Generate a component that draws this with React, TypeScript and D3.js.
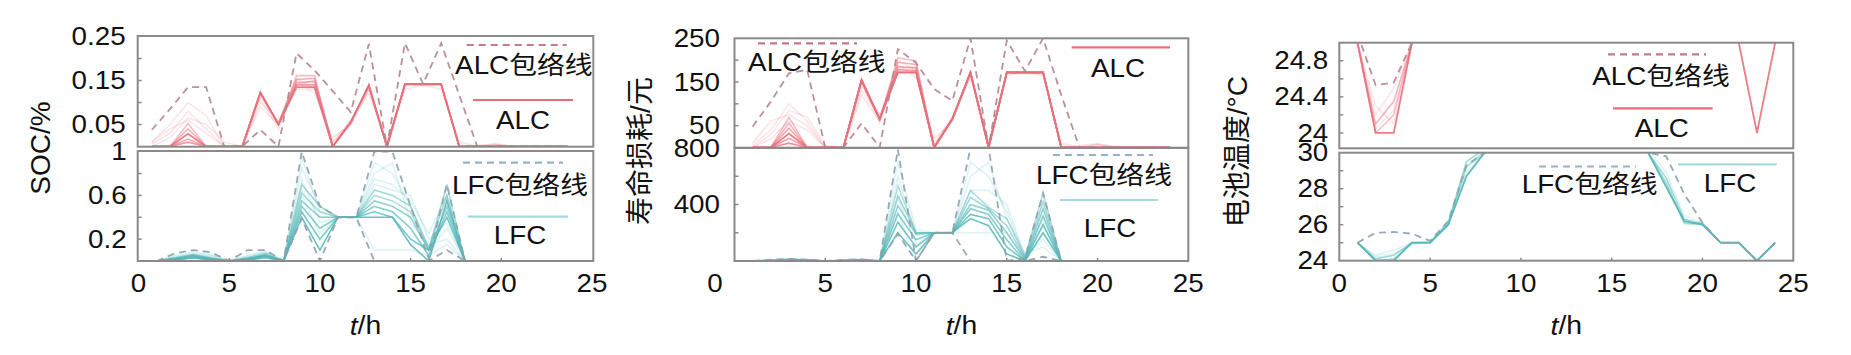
import React from 'react';
import * as d3 from 'd3';

// ---------------- data ----------------
const HOURS = [1, 2, 3, 4, 5, 6, 7, 8, 9, 10, 11, 12, 13, 14, 15, 16, 17, 18, 19, 20, 21, 22, 23, 24];
const X_TICKS = [0, 5, 10, 15, 20, 25];

// Panel 1 : SOC/%
const ALC_SOC_MAIN = [0, 0, 0.029, 0, 0, 0, 0.123, 0.05, 0.135, 0.135, 0, 0.055, 0.139, 0, 0.142, 0.142, 0.142, 0, 0, 0, 0, 0, 0, 0];
const ALC_SOC_MID = [
  [0, 0, 0.052, 0, 0, 0, 0.123, 0.05, 0.161, 0.161, 0, 0.055, 0.139, 0, 0.142, 0.142, 0.142, 0, 0, 0, 0, 0, 0, 0],
  [0, 0, 0.04, 0, 0, 0, 0.123, 0.05, 0.152, 0.155, 0, 0.055, 0.139, 0, 0.142, 0.142, 0.142, 0, 0, 0, 0, 0, 0, 0],
  [0, 0, 0.017, 0, 0, 0, 0.12, 0.05, 0.145, 0.148, 0, 0.055, 0.139, 0, 0.142, 0.142, 0.142, 0, 0, 0, 0, 0, 0, 0],
  [0, 0, 0.01, 0, 0, 0, 0.123, 0.05, 0.14, 0.14, 0, 0.055, 0.139, 0, 0.142, 0.142, 0.142, 0, 0, 0, 0, 0, 0, 0],
];
const ALC_SOC_FAINT = [
  [0.005, 0.03, 0.08, 0.04, 0, 0, 0.1, 0.06, 0.13, 0.13, 0.01, 0.06, 0.12, 0.01, 0.14, 0.14, 0.14, 0, 0, 0.006, 0, 0, 0, 0],
  [0.01, 0.05, 0.1, 0.07, 0, 0, 0.09, 0.05, 0.15, 0.12, 0.02, 0.05, 0.13, 0, 0.13, 0.14, 0.13, 0.01, 0, 0.004, 0, 0, 0, 0],
  [0, 0.02, 0.065, 0.05, 0.01, 0, 0.11, 0.04, 0.14, 0.15, 0, 0.06, 0.13, 0.01, 0.14, 0.14, 0.14, 0, 0.003, 0.005, 0, 0, 0, 0],
  [0.01, 0.04, 0.06, 0.03, 0, 0, 0.115, 0.055, 0.155, 0.13, 0.01, 0.05, 0.135, 0, 0.14, 0.14, 0.14, 0, 0, 0, 0, 0, 0, 0],
];
const ALC_SOC_ENV = [0.038, 0.085, 0.135, 0.135, 0, 0, 0.038, 0, 0.212, 0.173, 0.126, 0.078, 0.233, 0, 0.235, 0.142, 0.235, 0.117, 0, 0, 0, 0, 0, 0];

const LFC_SOC_MID = [
  [0, 0.02, 0.05, 0.02, 0, 0.02, 0.06, 0, 0.62, 0.45, 0.4, 0.4, 0.6, 0.55, 0.45, 0.1, 0.7, 0, 0, 0, 0, 0, 0, 0],
  [0, 0.03, 0.06, 0.03, 0, 0.03, 0.07, 0, 0.7, 0.5, 0.4, 0.4, 0.65, 0.6, 0.5, 0.12, 0.6, 0, 0, 0, 0, 0, 0, 0],
  [0, 0.02, 0.04, 0.02, 0, 0.02, 0.05, 0, 0.55, 0.4, 0.4, 0.4, 0.55, 0.5, 0.4, 0.1, 0.5, 0, 0, 0, 0, 0, 0, 0],
  [0, 0.01, 0.03, 0.01, 0, 0.01, 0.04, 0, 0.5, 0.3, 0.4, 0.4, 0.5, 0.45, 0.3, 0.05, 0.45, 0, 0, 0, 0, 0, 0, 0],
  [0, 0.02, 0.05, 0.02, 0, 0.02, 0.05, 0, 0.45, 0.2, 0.4, 0.4, 0.45, 0.4, 0.2, 0.1, 0.4, 0, 0, 0, 0, 0, 0, 0],
  [0, 0.01, 0.03, 0.01, 0, 0.01, 0.03, 0, 0.4, 0.1, 0.4, 0.4, 0.4, 0.4, 0.15, 0, 0.55, 0, 0, 0, 0, 0, 0, 0],
];
const LFC_SOC_FAINT = [
  [0, 0.04, 0.07, 0.05, 0.01, 0.04, 0.08, 0, 0.85, 0.5, 0.4, 0.4, 0.9, 0.8, 0.5, 0.1, 0.3, 0, 0, 0, 0, 0, 0, 0],
  [0, 0.05, 0.08, 0.06, 0, 0.05, 0.09, 0, 0.95, 0.45, 0.4, 0.4, 0.8, 0.9, 0.35, 0.15, 0.2, 0, 0, 0, 0, 0, 0, 0],
  [0, 0.03, 0.06, 0.04, 0, 0.03, 0.06, 0, 0.75, 0.35, 0.4, 0.4, 0.7, 0.65, 0.6, 0.2, 0.35, 0, 0, 0, 0, 0, 0, 0],
  [0, 0.02, 0.05, 0.03, 0, 0.02, 0.05, 0, 0.6, 0.25, 0.4, 0.4, 0.1, 0.1, 0.1, 0.05, 0.15, 0, 0, 0, 0, 0, 0, 0],
  [0, 0.01, 0.04, 0.02, 0, 0.01, 0.04, 0, 0.65, 0.4, 0.4, 0.4, 0.75, 0.7, 0.55, 0.25, 0.6, 0, 0, 0, 0, 0, 0, 0],
];
const LFC_SOC_ENV_UP = [0, 0.07, 0.1, 0.08, 0, 0.1, 0.1, 0, 1.0, 0.5, 0.4, 0.4, 1.0, 1.0, 0.5, 0.02, 0.7, 0, 0, 0, 0, 0, 0, 0];
const LFC_SOC_ENV_LOW = [0, 0, 0, 0, 0, 0, 0, 0, 0.39, 0, 0.4, 0.4, 0, 0, 0, 0, 0.1, 0, 0, 0, 0, 0, 0, 0];

// Panel 2 : 寿命损耗/元
const ALC_COST_MAIN = [0, 0, 32, 0, 0, 0, 155, 65, 172, 172, 0, 65, 172, 0, 172, 172, 172, 0, 0, 0, 0, 0, 0, 0];
const ALC_COST_MID = [
  [0, 0, 69, 0, 0, 0, 155, 65, 205, 198, 0, 65, 172, 0, 172, 172, 172, 0, 0, 0, 0, 0, 0, 0],
  [0, 0, 56, 0, 0, 0, 155, 65, 195, 190, 0, 65, 172, 0, 172, 172, 172, 0, 0, 0, 0, 0, 0, 0],
  [0, 0, 44, 0, 0, 0, 150, 65, 185, 182, 0, 65, 172, 0, 172, 172, 172, 0, 0, 0, 0, 0, 0, 0],
  [0, 0, 21, 0, 0, 0, 155, 65, 178, 176, 0, 65, 172, 0, 172, 172, 172, 0, 0, 0, 0, 0, 0, 0],
  [0, 0, 10, 0, 0, 0, 155, 65, 172, 172, 0, 65, 172, 0, 172, 172, 172, 0, 0, 0, 0, 0, 0, 0],
];
const ALC_COST_FAINT = [
  [5, 40, 100, 60, 0, 0, 130, 70, 170, 170, 10, 70, 160, 10, 170, 170, 170, 0, 0, 8, 0, 0, 0, 0],
  [0, 30, 85, 70, 5, 0, 120, 60, 190, 160, 20, 60, 170, 0, 165, 172, 165, 10, 0, 6, 0, 0, 0, 0],
  [10, 60, 75, 50, 0, 0, 140, 75, 180, 185, 0, 65, 165, 10, 172, 170, 172, 0, 5, 8, 3, 0, 0, 0],
  [0, 20, 60, 40, 0, 0, 150, 55, 200, 175, 5, 70, 170, 0, 170, 172, 170, 0, 0, 0, 0, 0, 0, 0],
];
const ALC_COST_ENV = [48, 105, 170, 178, 0, 0, 55, 0, 225, 194, 134, 107, 250, 0, 245, 175, 250, 120, 0, 0, 0, 0, 0, 0];

const LFC_COST_MID = [
  [0, 5, 12, 8, 0, 5, 10, 0, 534, 200, 200, 200, 500, 380, 300, 30, 480, 0, 0, 0, 0, 0, 0, 0],
  [0, 4, 10, 6, 0, 4, 8, 0, 463, 200, 200, 200, 450, 370, 250, 20, 420, 0, 0, 0, 0, 0, 0, 0],
  [0, 3, 8, 5, 0, 3, 6, 0, 393, 190, 200, 200, 400, 360, 200, 10, 370, 0, 0, 0, 0, 0, 0, 0],
  [0, 2, 6, 4, 0, 2, 5, 0, 334, 150, 200, 200, 370, 330, 150, 0, 320, 0, 0, 0, 0, 0, 0, 0],
  [0, 2, 5, 3, 0, 2, 4, 0, 275, 100, 200, 200, 330, 300, 100, 0, 260, 0, 0, 0, 0, 0, 0, 0],
  [0, 1, 4, 2, 0, 1, 3, 0, 200, 50, 200, 200, 300, 250, 50, 0, 200, 0, 0, 0, 0, 0, 0, 0],
];
const LFC_COST_FAINT = [
  [0, 8, 15, 10, 2, 6, 12, 0, 700, 220, 200, 200, 700, 600, 350, 40, 150, 0, 0, 0, 0, 0, 0, 0],
  [0, 6, 12, 8, 0, 5, 10, 0, 600, 180, 200, 200, 600, 700, 300, 50, 100, 0, 0, 0, 0, 0, 0, 0],
  [0, 4, 10, 6, 0, 4, 8, 0, 450, 120, 200, 200, 500, 500, 400, 30, 300, 0, 0, 0, 0, 0, 0, 0],
  [0, 3, 8, 5, 0, 3, 6, 0, 350, 0, 200, 200, 200, 200, 200, 20, 250, 0, 0, 0, 0, 0, 0, 0],
];
const LFC_COST_ENV_UP = [0, 10, 15, 10, 0, 8, 12, 0, 790, 0, 200, 200, 800, 800, 0, 20, 480, 0, 0, 0, 0, 0, 0, 0];
const LFC_COST_ENV_LOW = [0, 0, 0, 0, 0, 0, 0, 0, 193, 0, 200, 200, 0, 0, 0, 0, 30, 0, 0, 0, 0, 0, 0, 0];

// Panel 3 : 电池温度/°C
const ALC_TEMP_MAIN = [25, 24, 24, 25, 25.6, 26.5, 29, 30, 31, 32, 33, 33, 33, 33, 32, 31, 30, 28.5, 26.5, 26.2, 25.4, 25, 24, 25];
const ALC_TEMP_MID = [
  [25, 24, 24.2, 25, 25.6, 26.5, 29, 30, 31, 32, 33, 33, 33, 33, 32, 31, 30, 28.5, 26.5, 26.2, 25.4, 25.3, 25.2, 25.4],
  [25, 24.1, 24.35, 25, 25.6, 26.5, 29, 30, 31, 32, 33, 33, 33, 33, 32, 31, 30, 28.5, 26.5, 26.2, 25.4, 25.3, 25.2, 25.4],
];
const ALC_TEMP_FAINT = [
  [25, 24.2, 24.5, 25, 25.6, 26.5, 29, 30, 31, 32, 33, 33, 33, 33, 32, 31, 30, 28.5, 26.5, 26.2, 25.4, 25.3, 25.2, 25.4],
  [25, 24.3, 24.1, 25, 25.6, 26.5, 29, 30, 31, 32, 33, 33, 33, 33, 32, 31, 30, 28.5, 26.5, 26.2, 25.4, 25.3, 25.2, 25.4],
  [25, 24.05, 24.25, 25, 25.6, 26.5, 29, 30, 31, 32, 33, 33, 33, 33, 32, 31, 30, 28.5, 26.5, 26.2, 25.4, 25.3, 25.2, 25.4],
];
const ALC_TEMP_ENV = [25.1, 24.53, 24.56, 25, 25.8, 26.8, 29.5, 30.5, 31, 32, 33, 33, 33, 33, 32, 31, 30.5, 29.8, 27.7, 26.1, 25.5, 25.4, 25.3, 25.5];

const LFC_TEMP_MAIN = [25, 24, 24, 25, 25, 26, 28.7, 30, 31, 32, 33, 33, 33, 33, 32, 31, 30, 28.1, 26.2, 26, 25, 25, 24, 25];
const LFC_TEMP_MID = [
  [25, 24, 24.1, 25, 25, 26, 29.2, 30, 31, 32, 33, 33, 33, 33, 32, 31, 30, 28.3, 26.1, 26, 25, 25, 24, 25],
  [25, 24.1, 24.3, 25, 25, 26.1, 29.5, 30.2, 31, 32, 33, 33, 33, 33, 32, 31, 30, 28.6, 26.3, 26.05, 25, 25, 24, 25],
];
const LFC_TEMP_FAINT = [
  [25, 24.3, 24.6, 25, 25.1, 26.2, 28.9, 30, 31, 32, 33, 33, 33, 33, 32, 31, 30.2, 28.9, 26.5, 26.1, 25, 25, 24, 25],
  [25, 24.2, 24.4, 24.9, 25, 26.1, 29.3, 30.1, 31, 32, 33, 33, 33, 33, 32, 31, 30, 28.4, 26.0, 26.1, 25, 25, 24, 25],
];
const LFC_TEMP_ENV = [25, 25.55, 25.6, 25.5, 25.1, 26.2, 29.3, 30, 31, 32, 33, 33, 33, 33, 32, 31, 30, 29.8, 27.7, 26.1, 25, 25, 24, 25];

// ---------------- styles ----------------
const FONT = "'Liberation Sans', Arial, 'Noto Sans CJK SC', sans-serif";
const FRAME = '#8a8a8a';
const RED = '#e8707c';
const RED_DASH = '#b3848e';
const RED_LEG_DASH = '#c27a8c';
const TEAL = '#4fb6b6';
const TEAL_DASH = '#8da2ac';
const TEAL_LEG = '#a6d9d8';
const TEAL_LEG_DASH = '#97b2c6';
const DASH = '7,5';

type Series = { values: number[]; color: string; opacity: number; width: number; dash?: string };
type Legend = { kind: 'line' | 'text'; color?: string; dash?: string; x0?: number; x1?: number; x?: number; y: number; text?: string };

const sx = 1.09;

function Txt(props: { x: number; y: number; anchor?: string; size?: number; children: React.ReactNode }) {
  const { x, y, anchor = 'middle', size = 25.5, children } = props;
  return (
    <text
      transform={`translate(${x},${y}) scale(${sx},1)`}
      textAnchor={anchor as any}
      dominantBaseline="central"
      fontSize={size}
      fontFamily={FONT}
      fill="#111"
    >
      {children}
    </text>
  );
}

function mkSeries(mid: number[][], faint: number[][], main: number[] | null, envs: number[][], color: string, dashColor: string): Series[] {
  const out: Series[] = [];
  faint.forEach((v) => out.push({ values: v, color, opacity: 0.18, width: 1.6 }));
  mid.forEach((v, i) => out.push({ values: v, color, opacity: 0.45 + 0.08 * i, width: 1.6 }));
  if (main) out.push({ values: main, color, opacity: 0.9, width: 1.8 });
  envs.forEach((v) => out.push({ values: v, color: dashColor, opacity: 0.9, width: 1.8, dash: DASH }));
  return out;
}

type SubCfg = {
  id: string;
  x0: number; x1: number; y0: number; y1: number;
  xr: [number, number];
  yDomain: [number, number];
  yRange: [number, number];
  yTicks: number[];
  yLabels: number[];
  labelGap: number;
  series: Series[];
  legend: Legend[];
  xTicks?: boolean;
};

function Sub({ cfg }: { cfg: SubCfg }) {
  const x = d3.scaleLinear().domain([0, 25]).range(cfg.xr);
  const y = d3.scaleLinear().domain(cfg.yDomain).range(cfg.yRange);
  const line = d3
    .line<number>()
    .x((_, i) => x(HOURS[i]))
    .y((d) => y(d));
  return (
    <g>
      <defs>
        <clipPath id={cfg.id}>
          <rect x={cfg.x0} y={cfg.y0} width={cfg.x1 - cfg.x0} height={cfg.y1 - cfg.y0} />
        </clipPath>
      </defs>
      <g clipPath={`url(#${cfg.id})`}>
        {cfg.series.map((s, i) => (
          <path
            key={i}
            d={line(s.values) || ''}
            fill="none"
            stroke={s.color}
            strokeOpacity={s.opacity}
            strokeWidth={s.width}
            strokeDasharray={s.dash}
            strokeLinejoin="miter"
          />
        ))}
      </g>
      <rect x={cfg.x0} y={cfg.y0} width={cfg.x1 - cfg.x0} height={cfg.y1 - cfg.y0} fill="none" stroke={FRAME} strokeWidth={2} />
      {cfg.yTicks.map((t) => (
        <line key={'t' + t} x1={cfg.x0} x2={cfg.x0 + 4} y1={y(t)} y2={y(t)} stroke={FRAME} strokeWidth={1.5} />
      ))}
      {cfg.xTicks &&
        X_TICKS.slice(1, -1).map((t) => (
          <line key={'xt' + t} x1={x(t)} x2={x(t)} y1={cfg.y1} y2={cfg.y1 - 3} stroke={FRAME} strokeWidth={1.5} />
        ))}
      {cfg.yLabels.map((t) => (
        <Txt key={'l' + t} x={cfg.x0 - cfg.labelGap} y={y(t)} anchor="end">
          {String(t)}
        </Txt>
      ))}
      {cfg.legend.map((l, i) =>
        l.kind === 'line' ? (
          <line key={'g' + i} x1={l.x0} x2={l.x1} y1={l.y} y2={l.y} stroke={l.color} strokeWidth={2.2} strokeDasharray={l.dash} />
        ) : (
          <Txt key={'g' + i} x={l.x as number} y={l.y}>
            {l.text}
          </Txt>
        )
      )}
    </g>
  );
}

type PanelCfg = {
  x0: number; x1: number; xr: [number, number];
  zeroShift: number;
  title: string; titleX: number; titleY: number;
  subs: SubCfg[];
};

function Panel({ p }: { p: PanelCfg }) {
  const x = d3.scaleLinear().domain([0, 25]).range(p.xr);
  return (
    <g>
      {p.subs.map((s) => (
        <Sub key={s.id} cfg={s} />
      ))}
      {X_TICKS.map((t) => (
        <Txt key={t} x={x(t) + (t === 0 ? p.zeroShift : 0)} y={283}>
          {String(t)}
        </Txt>
      ))}
      <text
        transform={`translate(${(p.x0 + p.x1) / 2},${325}) scale(${sx},1)`}
        textAnchor="middle"
        dominantBaseline="central"
        fontSize={26}
        fontFamily={FONT}
        fill="#111"
      >
        <tspan fontStyle="italic">t</tspan>/h
      </text>
      <text
        transform={`translate(${p.titleX},${p.titleY}) rotate(-90)`}
        textAnchor="middle"
        dominantBaseline="central"
        fontSize={28}
        fontFamily={FONT}
        fill="#111"
      >
        {p.title}
      </text>
    </g>
  );
}

const P1: PanelCfg = {
  x0: 137.7, x1: 593.3, xr: [138.5, 592], zeroShift: 0,
  title: 'SOC/%', titleX: 40, titleY: 148,
  subs: [
    {
      id: 'p1a', x0: 137.7, x1: 593.3, y0: 36, y1: 146.7, xr: [133.8, 585.8],
      yDomain: [0, 0.25], yRange: [146.5, 36.5],
      yTicks: [0.05, 0.1, 0.15, 0.2], yLabels: [0.05, 0.15, 0.25], labelGap: 12,
      series: mkSeries(ALC_SOC_MID, ALC_SOC_FAINT, ALC_SOC_MAIN, [ALC_SOC_ENV], RED, RED_DASH),
      legend: [
        { kind: 'line', x0: 466.7, x1: 566.7, y: 45, color: RED_LEG_DASH, dash: DASH },
        { kind: 'text', x: 523.8, y: 65, text: 'ALC包络线' },
        { kind: 'line', x0: 473, x1: 573, y: 100, color: RED },
        { kind: 'text', x: 523, y: 120, text: 'ALC' },
      ],
    },
    {
      id: 'p1b', x0: 137.7, x1: 593.3, y0: 151, y1: 261, xr: [138.5, 592],
      yDomain: [0, 1], yRange: [261, 151.7],
      yTicks: [0.2, 0.4, 0.6, 0.8], yLabels: [0.2, 0.6, 1], labelGap: 11,
      series: mkSeries(LFC_SOC_MID, LFC_SOC_FAINT, null, [LFC_SOC_ENV_UP, LFC_SOC_ENV_LOW], TEAL, TEAL_DASH),
      legend: [
        { kind: 'line', x0: 463, x1: 563, y: 162.7, color: TEAL_LEG_DASH, dash: DASH },
        { kind: 'text', x: 520, y: 185, text: 'LFC包络线' },
        { kind: 'line', x0: 468, x1: 568, y: 216.7, color: TEAL_LEG },
        { kind: 'text', x: 520, y: 235, text: 'LFC' },
      ],
      xTicks: true,
    },
  ],
};

const P2: PanelCfg = {
  x0: 734.5, x1: 1188.3, xr: [734.5, 1188.3], zeroShift: -19.5,
  title: '寿命损耗/元', titleX: 640, titleY: 151,
  subs: [
    {
      id: 'p2a', x0: 734.5, x1: 1188.3, y0: 38.3, y1: 147.7, xr: [734.5, 1188.3],
      yDomain: [0, 250], yRange: [147.5, 38.3],
      yTicks: [50, 100, 150, 200], yLabels: [50, 150, 250], labelGap: 14.5,
      series: mkSeries(ALC_COST_MID, ALC_COST_FAINT, ALC_COST_MAIN, [ALC_COST_ENV], RED, RED_DASH),
      legend: [
        { kind: 'line', x0: 758, x1: 857, y: 43.3, color: RED_LEG_DASH, dash: DASH },
        { kind: 'text', x: 816.8, y: 62, text: 'ALC包络线' },
        { kind: 'line', x0: 1071.7, x1: 1170, y: 47.3, color: RED },
        { kind: 'text', x: 1118, y: 68, text: 'ALC' },
      ],
    },
    {
      id: 'p2b', x0: 734.5, x1: 1188.3, y0: 148, y1: 261, xr: [734.5, 1188.3],
      yDomain: [0, 800], yRange: [261, 148],
      yTicks: [200, 400, 600], yLabels: [400, 800], labelGap: 14.5,
      series: mkSeries(LFC_COST_MID, LFC_COST_FAINT, null, [LFC_COST_ENV_UP, LFC_COST_ENV_LOW], TEAL, TEAL_DASH),
      legend: [
        { kind: 'line', x0: 1053, x1: 1153, y: 155, color: TEAL_LEG_DASH, dash: DASH },
        { kind: 'text', x: 1104, y: 175, text: 'LFC包络线' },
        { kind: 'line', x0: 1060, x1: 1158, y: 200, color: TEAL_LEG },
        { kind: 'text', x: 1110, y: 228, text: 'LFC' },
      ],
      xTicks: true,
    },
  ],
};

const P3: PanelCfg = {
  x0: 1339.3, x1: 1793.3, xr: [1339.3, 1793.3], zeroShift: 0,
  title: '电池温度/°C', titleX: 1237, titleY: 151.7,
  subs: [
    {
      id: 'p3a', x0: 1339.3, x1: 1793.3, y0: 42.7, y1: 148.3, xr: [1339.3, 1793.3],
      yDomain: [23.83, 25], yRange: [148.3, 42.7],
      yTicks: [24, 24.2, 24.4, 24.6, 24.8], yLabels: [24, 24.4, 24.8], labelGap: 11,
      series: mkSeries(ALC_TEMP_MID, ALC_TEMP_FAINT, ALC_TEMP_MAIN, [ALC_TEMP_ENV], RED, RED_DASH),
      legend: [
        { kind: 'line', x0: 1608, x1: 1706, y: 54.3, color: RED_LEG_DASH, dash: DASH },
        { kind: 'text', x: 1661, y: 76.7, text: 'ALC包络线' },
        { kind: 'line', x0: 1613, x1: 1712.7, y: 108.3, color: RED },
        { kind: 'text', x: 1661.7, y: 128.3, text: 'ALC' },
      ],
    },
    {
      id: 'p3b', x0: 1339.3, x1: 1793.3, y0: 152.7, y1: 260.7, xr: [1339.3, 1793.3],
      yDomain: [24, 30], yRange: [260.7, 152.7],
      yTicks: [25, 26, 27, 28, 29], yLabels: [24, 26, 28, 30], labelGap: 11,
      series: mkSeries(LFC_TEMP_MID, LFC_TEMP_FAINT, LFC_TEMP_MAIN, [LFC_TEMP_ENV], TEAL, TEAL_DASH),
      legend: [
        { kind: 'line', x0: 1539, x1: 1636, y: 166.5, color: TEAL_LEG_DASH, dash: DASH },
        { kind: 'text', x: 1589.6, y: 184.6, text: 'LFC包络线' },
        { kind: 'line', x0: 1678, x1: 1776.7, y: 164.3, color: TEAL_LEG },
        { kind: 'text', x: 1730, y: 183.3, text: 'LFC' },
      ],
      xTicks: true,
    },
  ],
};

export default function App() {
  return (
    <svg
      width={1851}
      height={355}
      viewBox="0 0 1851 355"
      style={{ position: 'absolute', left: 0, top: 0, background: '#fff', display: 'block' }}
    >
      <rect x={0} y={0} width={1851} height={355} fill="#fff" />
      <Panel p={P1} />
      <Panel p={P2} />
      <Panel p={P3} />
    </svg>
  );
}
